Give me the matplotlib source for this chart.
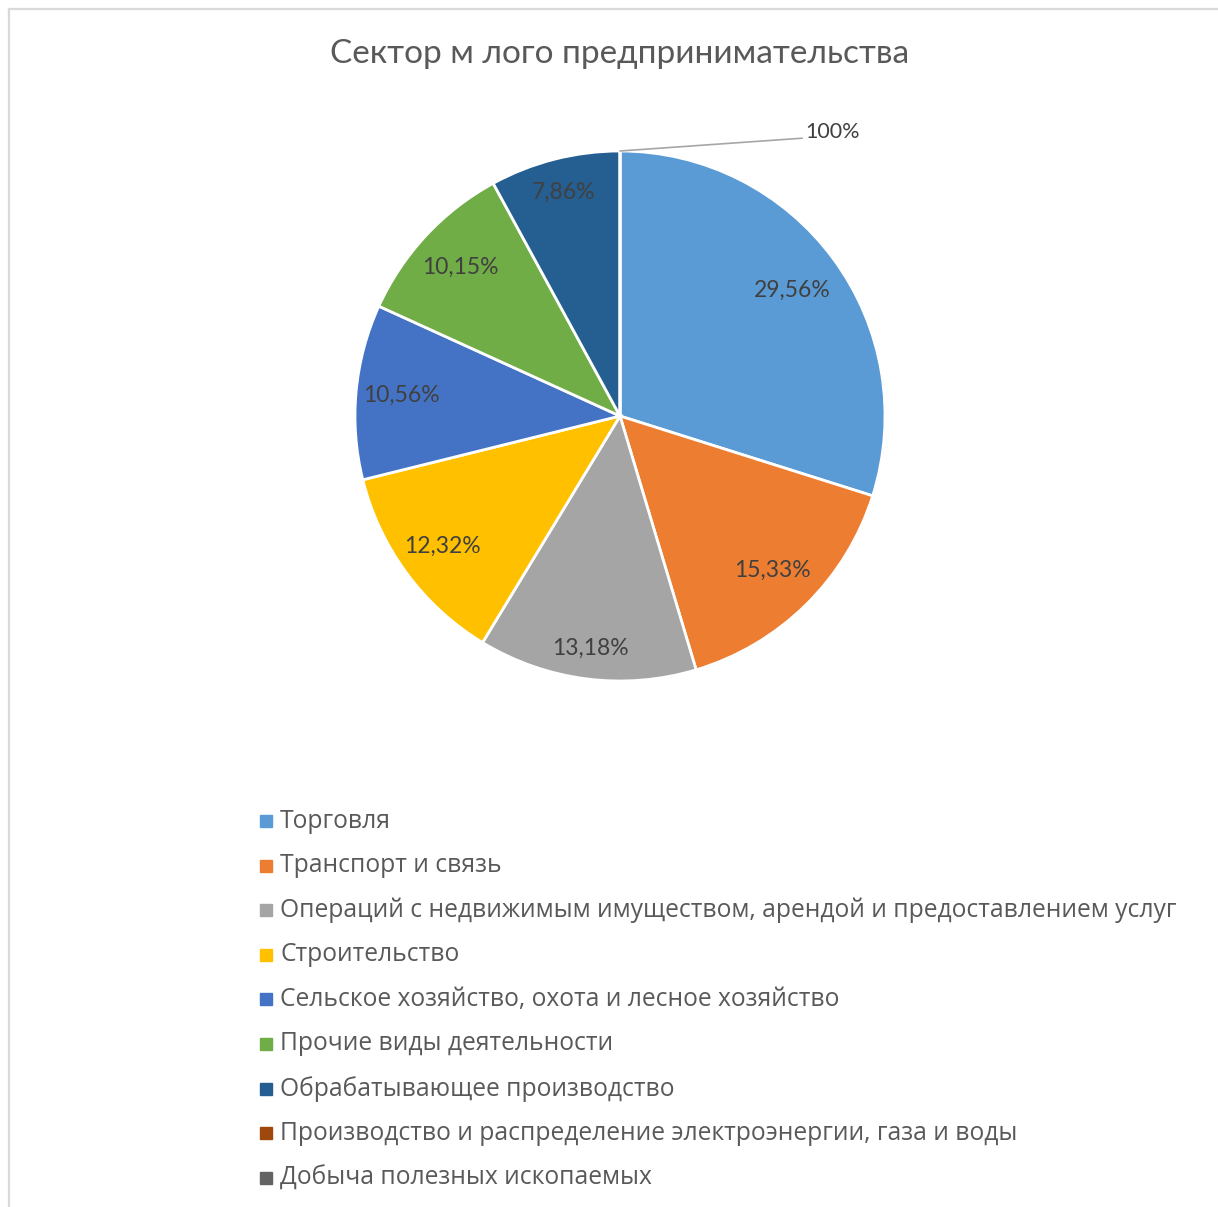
import numpy as np
import matplotlib.pyplot as plt
from matplotlib.lines import Line2D
from matplotlib.patches import Rectangle

categories = [
    'Торговля',
    'Транспорт и связь',
    'Операций с недвижимым имуществом, арендой и предоставлением услуг',
    'Строительство',
    'Сельское хозяйство, охота и лесное хозяйство',
    'Прочие виды деятельности',
    'Обрабатывающее производство',
    'Производство и распределение электроэнергии, газа и воды',
    'Добыча полезных ископаемых',
]
shares = [29.56, 15.33, 13.18, 12.32, 10.56, 10.15, 7.86, 0.0, 0.0]
colors = ['#5B9BD5', '#ED7D31', '#A5A5A5', '#FFC000', '#4472C4',
          '#70AD47', '#255E91', '#9E480E', '#636363']
title = 'Сектор м лого предпринимательства'
zero_label = '100%'   # excel puts this on the empty slice

# radial placement of the inside labels (fraction of radius, "best fit" look)
label_r = [0.805, 0.82, 0.885, 0.83, 0.83, 0.825, 0.87, 0, 0]

W, H = 1218, 1207
fig = plt.figure(figsize=(W / 100, H / 100), dpi=100)

# chart border (light grey, cut by the screenshot on the right/bottom)
fig.add_artist(Line2D([8.5 / W, 8.5 / W], [0, 1 - 9 / H], color='#D9D9D9', lw=1.6))
fig.add_artist(Line2D([8.5 / W, 1], [1 - 9 / H, 1 - 9 / H], color='#D9D9D9', lw=1.6))

fig.text(620 / W, 1 - 54 / H, title, ha='center', va='center',
         fontsize=24, color='#595959', family='Lato')

# pie axes in pixel units, center at (620, 416)
ax = fig.add_axes([(620 - 300) / W, (H - 416 - 300) / H, 600 / W, 600 / H])
R = 265
wedges, _ = ax.pie(shares, colors=colors, radius=R, startangle=90,
                   counterclock=False,
                   wedgeprops=dict(edgecolor='white', linewidth=2))
ax.set_xlim(-300, 300)
ax.set_ylim(-300, 300)
ax.axis('off')

for w, v, lr in zip(wedges, shares, label_r):
    if v == 0:
        continue
    mid = np.deg2rad((w.theta1 + w.theta2) / 2)
    ax.text(lr * R * np.cos(mid), lr * R * np.sin(mid),
            f'{v:.2f}%'.replace('.', ','), ha='center', va='center',
            fontsize=16.5, color='#404040', family='Lato')

# label of the empty slice with its leader line
w0 = wedges[7]
a0 = np.deg2rad(w0.theta1)
ax.annotate(zero_label, xy=(R * np.cos(a0), R * np.sin(a0)), xytext=(185, 284),
            ha='left', va='center', fontsize=15.5, color='#404040', family='Lato',
            arrowprops=dict(arrowstyle='-', color='#A6A6A6', lw=1.2,
                            shrinkA=0, shrinkB=0, relpos=(0, 0.2)),
            annotation_clip=False)

# legend
for i, (name, c) in enumerate(zip(categories, colors)):
    y = 821 + i * 44.6
    fig.add_artist(Rectangle((260 / W, 1 - (y + 6) / H), 12 / W, 12 / H,
                             color=c, transform=fig.transFigure))
    fig.text(280 / W, 1 - y / H, name, ha='left', va='center',
             fontsize=17.7, color='#595959', family='Open Sans')

fig.savefig('out.png', dpi=100, facecolor='white')
